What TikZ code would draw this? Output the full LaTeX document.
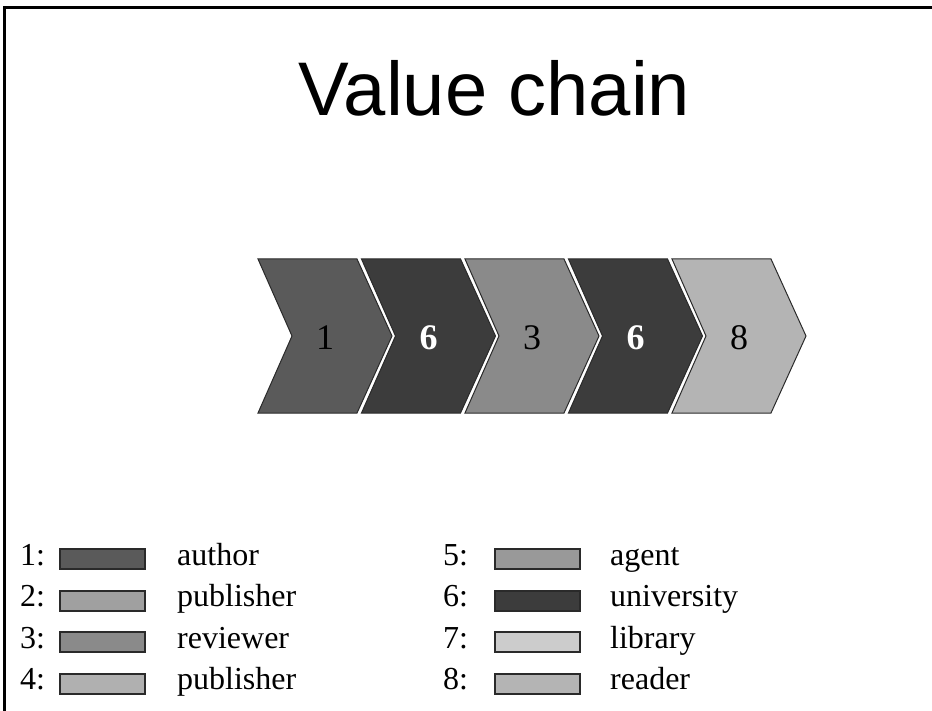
\documentclass[tikz,border=0pt]{standalone}
\usepackage{fontspec}
\setmainfont{Liberation Serif}
\newfontfamily\titlefont{Liberation Sans}
\definecolor{cAuthor}{HTML}{5A5A5A}
\definecolor{cPubA}{HTML}{A0A0A0}
\definecolor{cReviewer}{HTML}{8A8A8A}
\definecolor{cPubB}{HTML}{B0B0B0}
\definecolor{cAgent}{HTML}{999999}
\definecolor{cUniv}{HTML}{3C3C3C}
\definecolor{cLibrary}{HTML}{CCCCCC}
\definecolor{cReader}{HTML}{B4B4B4}
\definecolor{cEdge}{HTML}{2A2A2A}
\begin{document}
\begin{tikzpicture}[x=1pt,y=-1pt,
  chev/.style={draw=cEdge,line width=1pt,line join=miter},
  chevnum/.style={font=\fontsize{36}{36}\selectfont,text=black},
  chevnumw/.style={font=\fontsize{36}{36}\selectfont\bfseries,text=white},
  legbox/.style={draw=cEdge,line width=2pt,minimum width=85pt,minimum height=20pt,inner sep=0pt},
  legtxt/.style={font=\fontsize{32}{32}\selectfont,anchor=base west,inner sep=0pt}]
\useasboundingbox (0,0) rectangle (932,711);
% frame
\draw[line width=2.5pt] (4.5,711) -- (4.5,7.5) -- (932,7.5);
% title
\node[font=\titlefont\fontsize{76}{76}\selectfont,anchor=base,inner sep=0pt] (title) at (494.5,116) {Value chain};
% chevrons
\foreach \i/\col/\nm in {0/cAuthor/a,1/cUniv/b,2/cReviewer/c,3/cUniv/d,4/cReader/e}{
  \pgfmathsetmacro{\xl}{258+103.5*\i}
  \draw[chev,fill=\col] (\xl,259) -- ({\xl+99},259) -- ({\xl+134},336) -- ({\xl+99},413) -- (\xl,413) -- ({\xl+34},336) -- cycle;
  \coordinate (c\nm) at ({\xl+67},338);
}
\node[chevnum] (n1) at (ca) {1};
\node[chevnumw] (n2) at (cb) {6};
\node[chevnum] (n3) at (cc) {3};
\node[chevnumw] (n4) at (cd) {6};
\node[chevnum] (n5) at (ce) {8};
% legend
\foreach \k/\yy/\col/\lab in {1/565/cAuthor/author,2/606.5/cPubA/publisher,3/648/cReviewer/reviewer,4/689.5/cPubB/publisher}{
  \node[legtxt] (k\k) at (20,\yy) {\k:};
  \node[legbox,fill=\col] (b\k) at (102.5,{\yy-6}) {};
  \node[legtxt] (t\k) at (177,\yy) {\lab};
}
\foreach \k/\yy/\col/\lab in {5/565/cAgent/agent,6/606.5/cUniv/university,7/648/cLibrary/library,8/689.5/cReader/reader}{
  \node[legtxt] (k\k) at (443,\yy) {\k:};
  \node[legbox,fill=\col] (b\k) at (537,{\yy-6}) {};
  \node[legtxt] (t\k) at (610,\yy) {\lab};
}
\end{tikzpicture}
\end{document}
